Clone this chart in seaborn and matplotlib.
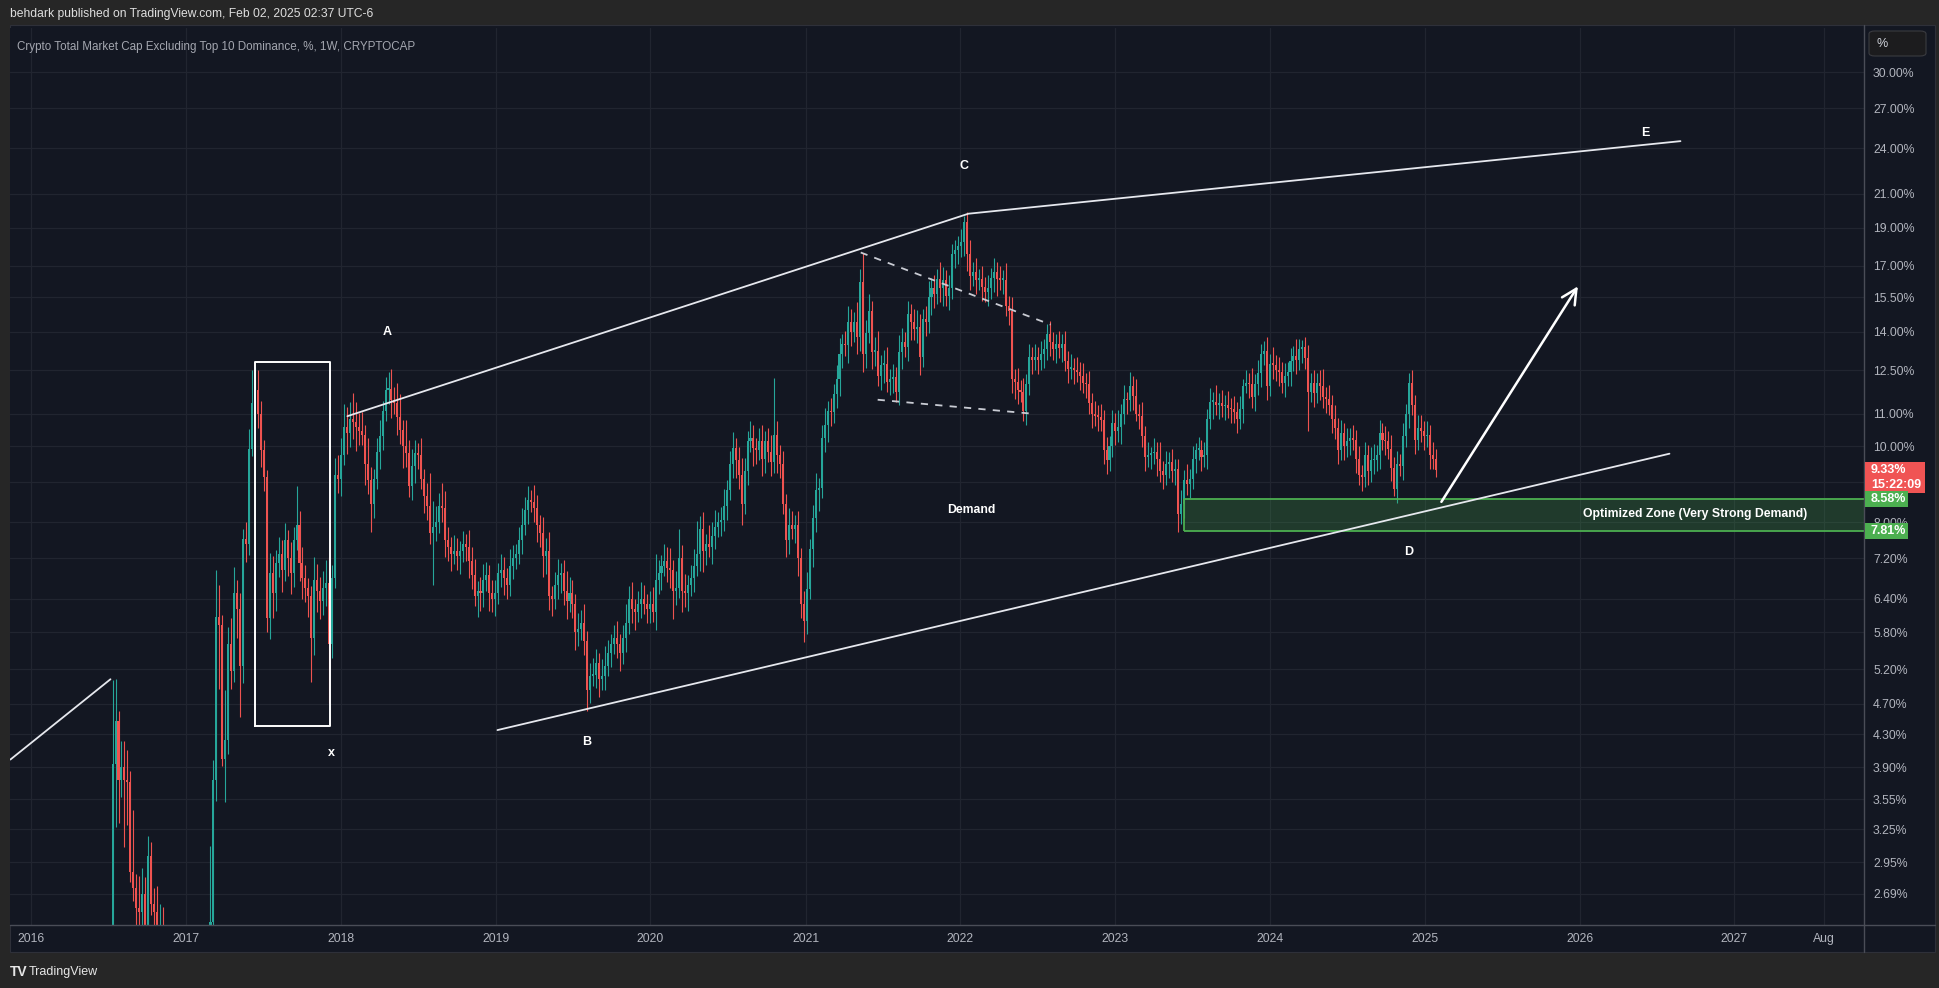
import numpy as np
import pandas as pd
import matplotlib
matplotlib.use("Agg")
import matplotlib.pyplot as plt
import matplotlib.dates as mdates
from matplotlib.patches import Rectangle, FancyBboxPatch
from matplotlib.lines import Line2D
from matplotlib.ticker import NullLocator
import seaborn as sns

# weekly candles, first week starts 2016-07-11, open of each week = previous close
start_week = "2016-07-11"
first_open = 2.10

close_2016 = [3.94, 4.47, 3.76, 3.90, 3.76, 3.74, 2.87, 2.74, 2.58, 2.55,
              2.69, 2.35, 3.01, 2.61, 2.55, 2.40, 2.42, 2.25, 2.15, 2.05,
              1.98, 1.92, 1.88, 1.95, 1.90]
close_2017 = [1.86, 1.82, 1.90, 1.97, 2.05, 2.02, 2.10, 2.18, 2.48, 3.76,
              6.06, 5.92, 4.00, 4.22, 5.60, 5.17, 6.50, 6.20, 5.25, 7.62,
              7.50, 9.93, 11.37, 11.80, 11.00, 9.90, 9.15, 6.05, 6.90, 6.50,
              7.10, 7.30, 6.95, 7.60, 7.20, 6.90, 7.60, 7.95, 7.10, 6.80,
              6.60, 6.45, 5.70, 6.75, 6.55, 6.35, 6.60, 6.70, 5.60, 6.80,
              9.20, 9.10]
close_2018 = [9.75, 10.60, 10.40, 10.84, 10.75, 10.60, 10.45, 10.35, 9.50, 9.05,
              8.45, 9.10, 9.85, 10.30, 11.10, 11.80, 11.84, 11.45, 11.35, 10.90,
              10.50, 10.00, 9.80, 8.90, 9.45, 9.80, 9.75, 9.10, 8.65, 8.40,
              7.75, 7.90, 8.00, 8.40, 8.35, 7.60, 7.45, 7.30, 7.35, 7.25,
              7.35, 7.50, 7.45, 7.15, 6.85, 6.45, 6.55, 6.50, 6.75, 6.85,
              6.50, 6.40]
close_2019 = [6.50, 6.90, 6.95, 6.80, 6.65, 7.05, 7.20, 7.30, 7.60, 7.95,
              8.30, 8.55, 8.50, 8.35, 7.95, 7.75, 7.25, 7.35, 6.45, 6.40,
              6.65, 6.85, 6.90, 6.55, 6.35, 6.50, 6.30, 5.80, 5.85, 5.95,
              5.65, 4.90, 5.10, 5.12, 5.30, 5.05, 5.10, 5.25, 5.45, 5.60,
              5.70, 5.60, 5.45, 5.70, 5.95, 6.39, 6.20, 6.15, 6.30, 6.40,
              6.30, 6.20]
close_2020 = [6.30, 6.15, 6.75, 6.90, 7.05, 7.15, 7.00, 6.95, 6.55, 6.60,
              7.20, 6.55, 6.50, 6.65, 6.80, 7.05, 7.30, 7.85, 7.35, 7.50,
              7.45, 7.70, 7.90, 8.00, 8.05, 8.40, 8.80, 9.50, 9.95, 9.60,
              9.20, 8.45, 9.30, 10.15, 10.25, 9.95, 9.90, 10.15, 9.65, 10.15,
              9.85, 9.55, 10.35, 9.75, 9.50, 8.45, 7.60, 7.95, 7.85, 7.95,
              7.20, 6.30]
close_2021 = [6.00, 6.58, 7.40, 8.10, 8.80, 8.85, 10.25, 10.65, 11.10, 11.05,
              11.65, 12.20, 13.10, 13.50, 13.45, 14.40, 14.00, 14.40, 13.80, 16.20,
              13.10, 13.95, 14.90, 13.20, 13.25, 12.30, 12.70, 12.75, 12.10, 12.20,
              12.25, 11.75, 13.20, 13.60, 13.40, 14.75, 14.40, 14.10, 14.20, 13.00,
              14.54, 14.40, 15.50, 15.90, 15.65, 16.35, 15.90, 16.30, 15.55, 15.90,
              17.60, 17.80]
close_2022 = [18.00, 18.20, 19.30, 17.60, 16.50, 16.70, 16.30, 16.35, 15.95, 15.75,
              15.90, 16.40, 16.70, 16.35, 16.30, 16.32, 15.10, 14.90, 12.20, 12.10,
              11.80, 11.75, 11.10, 12.00, 13.00, 12.90, 13.00, 12.90, 13.10, 13.30,
              13.90, 13.60, 13.30, 13.50, 13.35, 13.50, 12.85, 12.55, 12.60, 12.50,
              12.45, 12.30, 12.05, 12.00, 11.35, 11.00, 10.95, 10.90, 10.80, 9.90,
              9.60, 10.00]
close_2023 = [10.70, 10.45, 10.60, 11.00, 11.50, 11.45, 11.95, 11.60, 11.00, 10.95,
              10.30, 9.70, 9.75, 9.80, 9.85, 9.65, 9.30, 9.20, 9.50, 9.55,
              9.30, 9.35, 8.20, 8.45, 9.05, 8.95, 9.10, 9.64, 9.90, 9.90,
              9.70, 9.75, 10.85, 11.40, 11.40, 11.30, 11.35, 11.25, 11.30, 11.20,
              11.15, 11.05, 10.85, 11.15, 11.95, 12.05, 12.00, 11.55, 12.00, 12.40,
              13.10, 13.25]
close_2024 = [11.95, 12.75, 12.70, 12.50, 12.45, 12.05, 12.30, 12.45, 12.85, 13.05,
              12.90, 13.30, 13.40, 12.95, 11.75, 12.05, 11.70, 12.05, 11.95, 11.55,
              11.50, 11.30, 10.85, 10.55, 9.90, 10.40, 10.00, 10.15, 10.25, 10.20,
              9.64, 9.20, 9.15, 9.75, 9.30, 9.60, 9.60, 9.75, 10.40, 10.20,
              10.15, 9.93, 9.40, 8.82, 9.50, 9.45, 10.30, 11.00, 12.05, 11.30,
              10.20, 10.55]
close_2025 = [10.45, 10.30, 10.35, 9.75, 9.65, 9.33]

# wick sizes in % of the body edge (upper / lower)
up_2016 = [28, 13, 3, 8, 8, 9, 3, 20, 4, 10,
           8, 5, 6, 4, 5, 8, 8, 7, 5, 6,
           4, 5, 6, 5, 4]
dn_2016 = [5, 17, 12, 5, 18, 12, 3, 4, 5, 4,
           4, 3, 3, 3, 4, 4, 3, 3, 4, 3,
           4, 3, 5, 4, 3]
up_2017 = [4, 5, 3, 4, 5, 4, 6, 5, 25, 6,
           15, 10, 3, 16, 5, 8, 8, 4, 5, 3,
           5, 6, 10, 7, 6, 4, 3, 2, 6, 5,
           4, 5, 4, 5, 3, 5, 4, 12, 4, 5,
           4, 3, 3, 7, 5, 4, 5, 7, 8, 4,
           5, 6]
dn_2017 = [3, 4, 3, 3, 4, 3, 4, 3, 3, 5,
           6, 17, 2, 12, 4, 5, 3, 8, 14, 5,
           5, 3, 2, 3, 4, 5, 4, 4, 6, 7,
           5, 4, 6, 3, 5, 6, 4, 3, 5, 6,
           4, 6, 12, 5, 6, 5, 4, 5, 16, 4,
           3, 4]
up_2018 = [5, 7, 6, 5, 8, 6, 4, 6, 3, 8,
           4, 3, 4, 5, 3, 4, 5, 6, 4, 6,
           7, 3, 8, 4, 5, 4, 3, 5, 3, 4,
           10, 8, 5, 4, 7, 5, 4, 3, 5, 4,
           3, 4, 3, 5, 4, 5, 3, 4, 5, 4,
           3, 4]
dn_2018 = [5, 3, 6, 4, 5, 7, 4, 3, 6, 4,
           8, 4, 3, 5, 4, 3, 4, 5, 3, 5,
           4, 6, 4, 3, 4, 5, 4, 3, 5, 4,
           3, 14, 4, 3, 4, 5, 4, 5, 3, 4,
           5, 3, 4, 5, 4, 3, 6, 5, 4, 3,
           5, 4]
up_2019 = [4, 3, 5, 4, 3, 5, 4, 3, 4, 5,
           4, 4, 3, 5, 4, 3, 5, 4, 6, 3,
           4, 5, 3, 4, 6, 5, 4, 3, 5, 4,
           6, 3, 4, 5, 4, 3, 5, 6, 4, 3,
           4, 5, 3, 4, 6, 4, 5, 3, 4, 5,
           4, 3]
dn_2019 = [5, 3, 4, 5, 4, 3, 4, 3, 3, 4,
           3, 4, 3, 4, 5, 4, 6, 5, 4, 5,
           3, 4, 5, 4, 5, 3, 4, 5, 4, 3,
           4, 6, 4, 3, 4, 5, 3, 4, 3, 4,
           3, 4, 5, 3, 4, 3, 4, 5, 3, 4,
           3, 4]
up_2020 = [4, 5, 8, 4, 3, 5, 4, 6, 3, 5,
           9, 4, 5, 3, 4, 5, 10, 4, 5, 3,
           6, 4, 5, 3, 4, 5, 3, 4, 5, 3,
           4, 5, 4, 3, 5, 4, 3, 4, 5, 3,
           4, 5, 18, 4, 3, 4, 3, 5, 4, 3,
           4, 3]
dn_2020 = [4, 3, 5, 4, 5, 3, 4, 5, 8, 4,
           3, 6, 4, 5, 3, 4, 3, 5, 6, 4,
           3, 5, 4, 3, 4, 3, 4, 3, 4, 5,
           4, 6, 3, 4, 3, 5, 4, 3, 5, 4,
           3, 4, 3, 5, 4, 3, 5, 4, 3, 4,
           5, 4]
up_2021 = [4, 5, 3, 4, 5, 3, 4, 5, 3, 4,
           3, 4, 5, 3, 4, 5, 4, 3, 6, 4,
           9, 4, 5, 3, 4, 6, 3, 4, 5, 3,
           4, 3, 5, 4, 3, 4, 3, 4, 5, 4,
           3, 4, 5, 3, 4, 3, 5, 4, 3, 4,
           3, 3]
dn_2021 = [6, 4, 3, 5, 4, 6, 3, 4, 5, 4,
           3, 4, 5, 4, 3, 5, 4, 3, 5, 4,
           5, 4, 3, 5, 4, 3, 4, 5, 3, 4,
           4, 3, 4, 5, 3, 4, 5, 3, 4, 5,
           3, 4, 3, 5, 4, 3, 4, 5, 3, 4,
           3, 4]
up_2022 = [3, 4, 2, 3, 4, 3, 4, 3, 4, 3,
           4, 3, 4, 3, 4, 3, 5, 3, 4, 3,
           4, 3, 4, 3, 4, 3, 4, 3, 4, 3,
           3, 4, 3, 3, 4, 3, 4, 3, 4, 3,
           4, 3, 4, 3, 4, 3, 4, 3, 4, 3,
           4, 3]
dn_2022 = [4, 3, 4, 5, 4, 3, 4, 3, 4, 3,
           4, 3, 4, 5, 3, 4, 3, 4, 4, 5,
           4, 3, 3, 4, 3, 4, 3, 4, 3, 4,
           3, 4, 3, 4, 3, 4, 3, 4, 3, 4,
           3, 4, 3, 4, 3, 4, 3, 4, 3, 4,
           4, 3]
up_2023 = [4, 3, 5, 3, 4, 2, 4, 3, 5, 3,
           4, 3, 4, 2, 4, 3, 5, 3, 4, 3,
           4, 3, 3, 4, 3, 5, 3, 4, 2, 4,
           3, 4, 3, 4, 3, 5, 3, 4, 3, 4,
           3, 4, 3, 4, 2, 4, 3, 5, 3, 4,
           3, 3]
dn_2023 = [3, 4, 3, 5, 3, 4, 3, 4, 2, 4,
           3, 4, 3, 4, 3, 5, 3, 4, 3, 4,
           3, 4, 5, 3, 4, 3, 4, 3, 4, 3,
           4, 3, 4, 3, 5, 3, 4, 3, 4, 3,
           4, 3, 4, 3, 4, 2, 4, 3, 4, 3,
           4, 3]
up_2024 = [4, 3, 5, 3, 4, 3, 4, 3, 4, 3,
           5, 3, 2, 3, 4, 3, 4, 3, 4, 5,
           3, 4, 3, 4, 3, 4, 3, 4, 3, 4,
           3, 4, 3, 4, 3, 4, 5, 3, 4, 3,
           4, 3, 4, 3, 4, 3, 4, 3, 3, 4,
           3, 4]
dn_2024 = [4, 3, 4, 3, 4, 3, 4, 3, 4, 3,
           4, 3, 4, 3, 11, 3, 4, 3, 4, 3,
           4, 3, 4, 3, 4, 3, 4, 3, 4, 3,
           4, 3, 4, 3, 4, 3, 4, 3, 4, 3,
           4, 3, 4, 2, 4, 3, 4, 3, 4, 3,
           4, 3]
up_2025 = [4, 3, 4, 3, 4, 3]
dn_2025 = [3, 4, 3, 4, 3, 2]

price_ticks = [30.0, 27.0, 24.0, 21.0, 19.0, 17.0, 15.5, 14.0, 12.5, 11.0, 10.0,
               9.0, 8.0, 7.2, 6.4, 5.8, 5.2, 4.7, 4.3, 3.9, 3.55, 3.25, 2.95, 2.69]
year_ticks = [2016, 2017, 2018, 2019, 2020, 2021, 2022, 2023, 2024, 2025, 2026, 2027]

last_price = 9.33
last_timer = "15:22:09"
zone_top = 8.58
zone_bottom = 7.81
zone_start = "2023-06-12"

# drawings as (date, value)
left_line = [("2015-11-13", 3.99), ("2016-07-06", 5.05)]
upper_channel = [("2018-01-16", 10.93), ("2022-01-20", 19.8), ("2026-08-27", 24.5)]
lower_channel = [("2019-01-05", 4.35), ("2026-08-01", 9.79)]
dash_upper = [("2021-05-11", 17.67), ("2022-08-02", 14.3)]
dash_lower = [("2021-06-20", 11.47), ("2022-06-28", 11.0)]
box_dates = ["2017-06-13", "2017-12-07"]
box_values = [4.40, 12.83]
arrow_from = ("2025-02-09", 8.5)
arrow_to = ("2025-12-28", 16.0)
wave_labels = [("A", "2018-04-20", 14.0), ("B", "2019-08-03", 4.2),
               ("C", "2022-01-09", 22.75), ("D", "2024-11-24", 7.33),
               ("E", "2026-06-06", 25.1), ("x", "2017-12-10", 4.07)]
demand_label = ("Demand", "2022-01-28", 8.3)
zone_label = ("Optimized Zone (Very Strong Demand)", "2026-10-01", 8.2)

UP = "#26a69a"
DOWN = "#ef5350"
BG = "#131722"
OUTER = "#262626"
GRID = "#212530"
AXIS_TXT = "#b2b5be"

closes = (close_2016 + close_2017 + close_2018 + close_2019 + close_2020 +
          close_2021 + close_2022 + close_2023 + close_2024 + close_2025)
ups = (up_2016 + up_2017 + up_2018 + up_2019 + up_2020 +
       up_2021 + up_2022 + up_2023 + up_2024 + up_2025)
dns = (dn_2016 + dn_2017 + dn_2018 + dn_2019 + dn_2020 +
       dn_2021 + dn_2022 + dn_2023 + dn_2024 + dn_2025)
assert len(closes) == len(ups) == len(dns), (len(closes), len(ups), len(dns))

df = pd.DataFrame({
    "date": pd.date_range(start_week, periods=len(closes), freq="7D"),
    "close": closes, "up": ups, "dn": dns,
})
df["open"] = df["close"].shift(1).fillna(first_open)
body_top = df[["open", "close"]].max(axis=1)
body_bot = df[["open", "close"]].min(axis=1)
df["high"] = body_top * (1 + df["up"] / 100)
df["low"] = body_bot * (1 - df["dn"] / 100)
colors = np.where(df["close"] >= df["open"], UP, DOWN)
body = (body_top - body_bot).clip(lower=body_top * 0.005)

sns.set_theme(style="dark", rc={
    "axes.facecolor": BG, "figure.facecolor": OUTER,
    "axes.edgecolor": BG, "text.color": "white",
    "xtick.color": AXIS_TXT, "ytick.color": AXIS_TXT,
})
plt.rcParams["font.family"] = ["Liberation Sans", "DejaVu Sans"]

W, H = 1940, 988
fig = plt.figure(figsize=(W / 100, H / 100), dpi=100)


def fx(px):
    return px / W


def fy(py):
    return 1 - py / H


fig.add_artist(Rectangle((fx(10), fy(952)), fx(1935) - fx(10), fy(25) - fy(952),
                         transform=fig.transFigure, facecolor=BG,
                         edgecolor="#2e3039", lw=0.8, zorder=-5))

ax = fig.add_axes([fx(10), fy(925), fx(1864) - fx(10), fy(28) - fy(925)])
ax.set_facecolor(BG)

# candles
ax.vlines(df["date"], df["low"], df["high"], colors=colors, lw=0.8, zorder=2)
ax.bar(df["date"], body, bottom=body_bot, width=4.8, color=colors, lw=0, zorder=3)

ax.set_yscale("log")
ax.set_ylim(2.455, 34.15)
x_left = pd.Timestamp("2015-11-12")
x_right = pd.Timestamp("2027-11-03")
ax.set_xlim(x_left, x_right)

ax.yaxis.tick_right()
ax.set_yticks(price_ticks)
ax.set_yticklabels([f"{v:.2f}%" for v in price_ticks])
ax.yaxis.set_minor_locator(NullLocator())
xt = [pd.Timestamp(f"{y}-01-01") for y in year_ticks] + [pd.Timestamp("2027-08-01")]
ax.set_xticks(mdates.date2num(xt))
ax.set_xticklabels([str(y) for y in year_ticks] + ["Aug"])
ax.xaxis.set_minor_locator(NullLocator())
ax.tick_params(axis="y", length=0, pad=6.5, labelsize=8.8, labelcolor=AXIS_TXT)
ax.tick_params(axis="x", length=0, pad=6, labelsize=8.8, labelcolor=AXIS_TXT)
ax.grid(True, color=GRID, lw=0.9)
for s in ax.spines.values():
    s.set_visible(False)

# frame lines of the price / time scales
fig.add_artist(Line2D([fx(10), fx(1935)], [fy(925), fy(925)], transform=fig.transFigure,
                      color="#4a4d57", lw=1))
fig.add_artist(Line2D([fx(1864), fx(1864)], [fy(25), fy(952)], transform=fig.transFigure,
                      color="#4a4d57", lw=1))

# demand zone
zs = pd.Timestamp(zone_start)
ax.fill_between([zs, x_right], zone_bottom, zone_top, color="#4caf50", alpha=0.23,
                lw=0, zorder=4)
ax.hlines([zone_top, zone_bottom], zs, x_right, color="#4caf50", lw=1.3, zorder=5)
ax.vlines(zs, zone_bottom, zone_top, color="#4caf50", lw=1.3, zorder=5)


def pts(line):
    return [pd.Timestamp(d) for d, _ in line], [v for _, v in line]


for line in (left_line, upper_channel, lower_channel):
    xs, ys = pts(line)
    sns.lineplot(x=xs, y=ys, ax=ax, color="#e6e8ee", lw=1.3, sort=False, zorder=6)
for line in (dash_upper, dash_lower):
    xs, ys = pts(line)
    ax.plot(xs, ys, color="#c9ccd4", lw=1.3, ls=(0, (4, 4)), zorder=6)

bx = [pd.Timestamp(d) for d in box_dates]
ax.plot([bx[0], bx[1], bx[1], bx[0], bx[0]],
        [box_values[0], box_values[0], box_values[1], box_values[1], box_values[0]],
        color="white", lw=1.4, zorder=6)

ax.annotate("", xy=(mdates.date2num(pd.Timestamp(arrow_to[0])), arrow_to[1]),
            xytext=(mdates.date2num(pd.Timestamp(arrow_from[0])), arrow_from[1]),
            arrowprops=dict(arrowstyle="->,head_length=0.9,head_width=0.45",
                            color="white", lw=1.8, shrinkA=0, shrinkB=0), zorder=7)

for txt, d, v in wave_labels:
    ax.text(pd.Timestamp(d), v, txt, color="white", fontsize=9, fontweight="bold",
            ha="center", va="center", zorder=8)
for txt, d, v in (demand_label, zone_label):
    ax.text(pd.Timestamp(d), v, txt, color="white", fontsize=8.8, fontweight="bold",
            ha="center", va="center", zorder=8)

ax.text(0.0038, 0.986, "Crypto Total Market Cap Excluding Top 10 Dominance, %, 1W, CRYPTOCAP",
        transform=ax.transAxes, color="#a3a6af", fontsize=8.4, ha="left", va="top")


# price badges on the scale
def badge(value, width_px, color, lines):
    y = ax.transData.transform((0, value))[1]
    top = y + 8
    bottom = y - 8 - 15 * (len(lines) - 1)
    fig.add_artist(Rectangle((fx(1865), bottom / H), width_px / W, (top - bottom) / H,
                             transform=fig.transFigure, facecolor=color, edgecolor="none",
                             zorder=10))
    for k, t in enumerate(lines):
        fig.text(fx(1871), (y - 15 * k) / H, t, color="white", fontsize=9,
                 fontweight="bold", ha="left", va="center", zorder=11)


badge(last_price, 60, "#f05454", [f"{last_price:.2f}%", last_timer])
badge(zone_top, 43, "#4caf50", [f"{zone_top:.2f}%"])
badge(zone_bottom, 43, "#4caf50", [f"{zone_bottom:.2f}%"])

# "%" scale button
fig.add_artist(FancyBboxPatch((fx(1869), fy(56)), fx(1926) - fx(1869), fy(31) - fy(56),
                              boxstyle="round,pad=0,rounding_size=0.003",
                              transform=fig.transFigure, facecolor="#1c1c1e",
                              edgecolor="#3a3b40", lw=0.8, zorder=10))
fig.text(fx(1877), fy(44), "%", color="#d1d4dc", fontsize=9, ha="left", va="center",
         zorder=11)

fig.text(fx(10), fy(14), "behdark published on TradingView.com, Feb 02, 2025 02:37 UTC-6",
         color="#dedede", fontsize=8.7, ha="left", va="center")
fig.text(fx(10), fy(972), "TV", color="#e6e6e6", fontsize=10, fontweight="bold",
         ha="left", va="center")
fig.text(fx(29), fy(972), "TradingView", color="#e6e6e6", fontsize=9,
         ha="left", va="center")

fig.savefig("out.png", dpi=100, facecolor=OUTER)
